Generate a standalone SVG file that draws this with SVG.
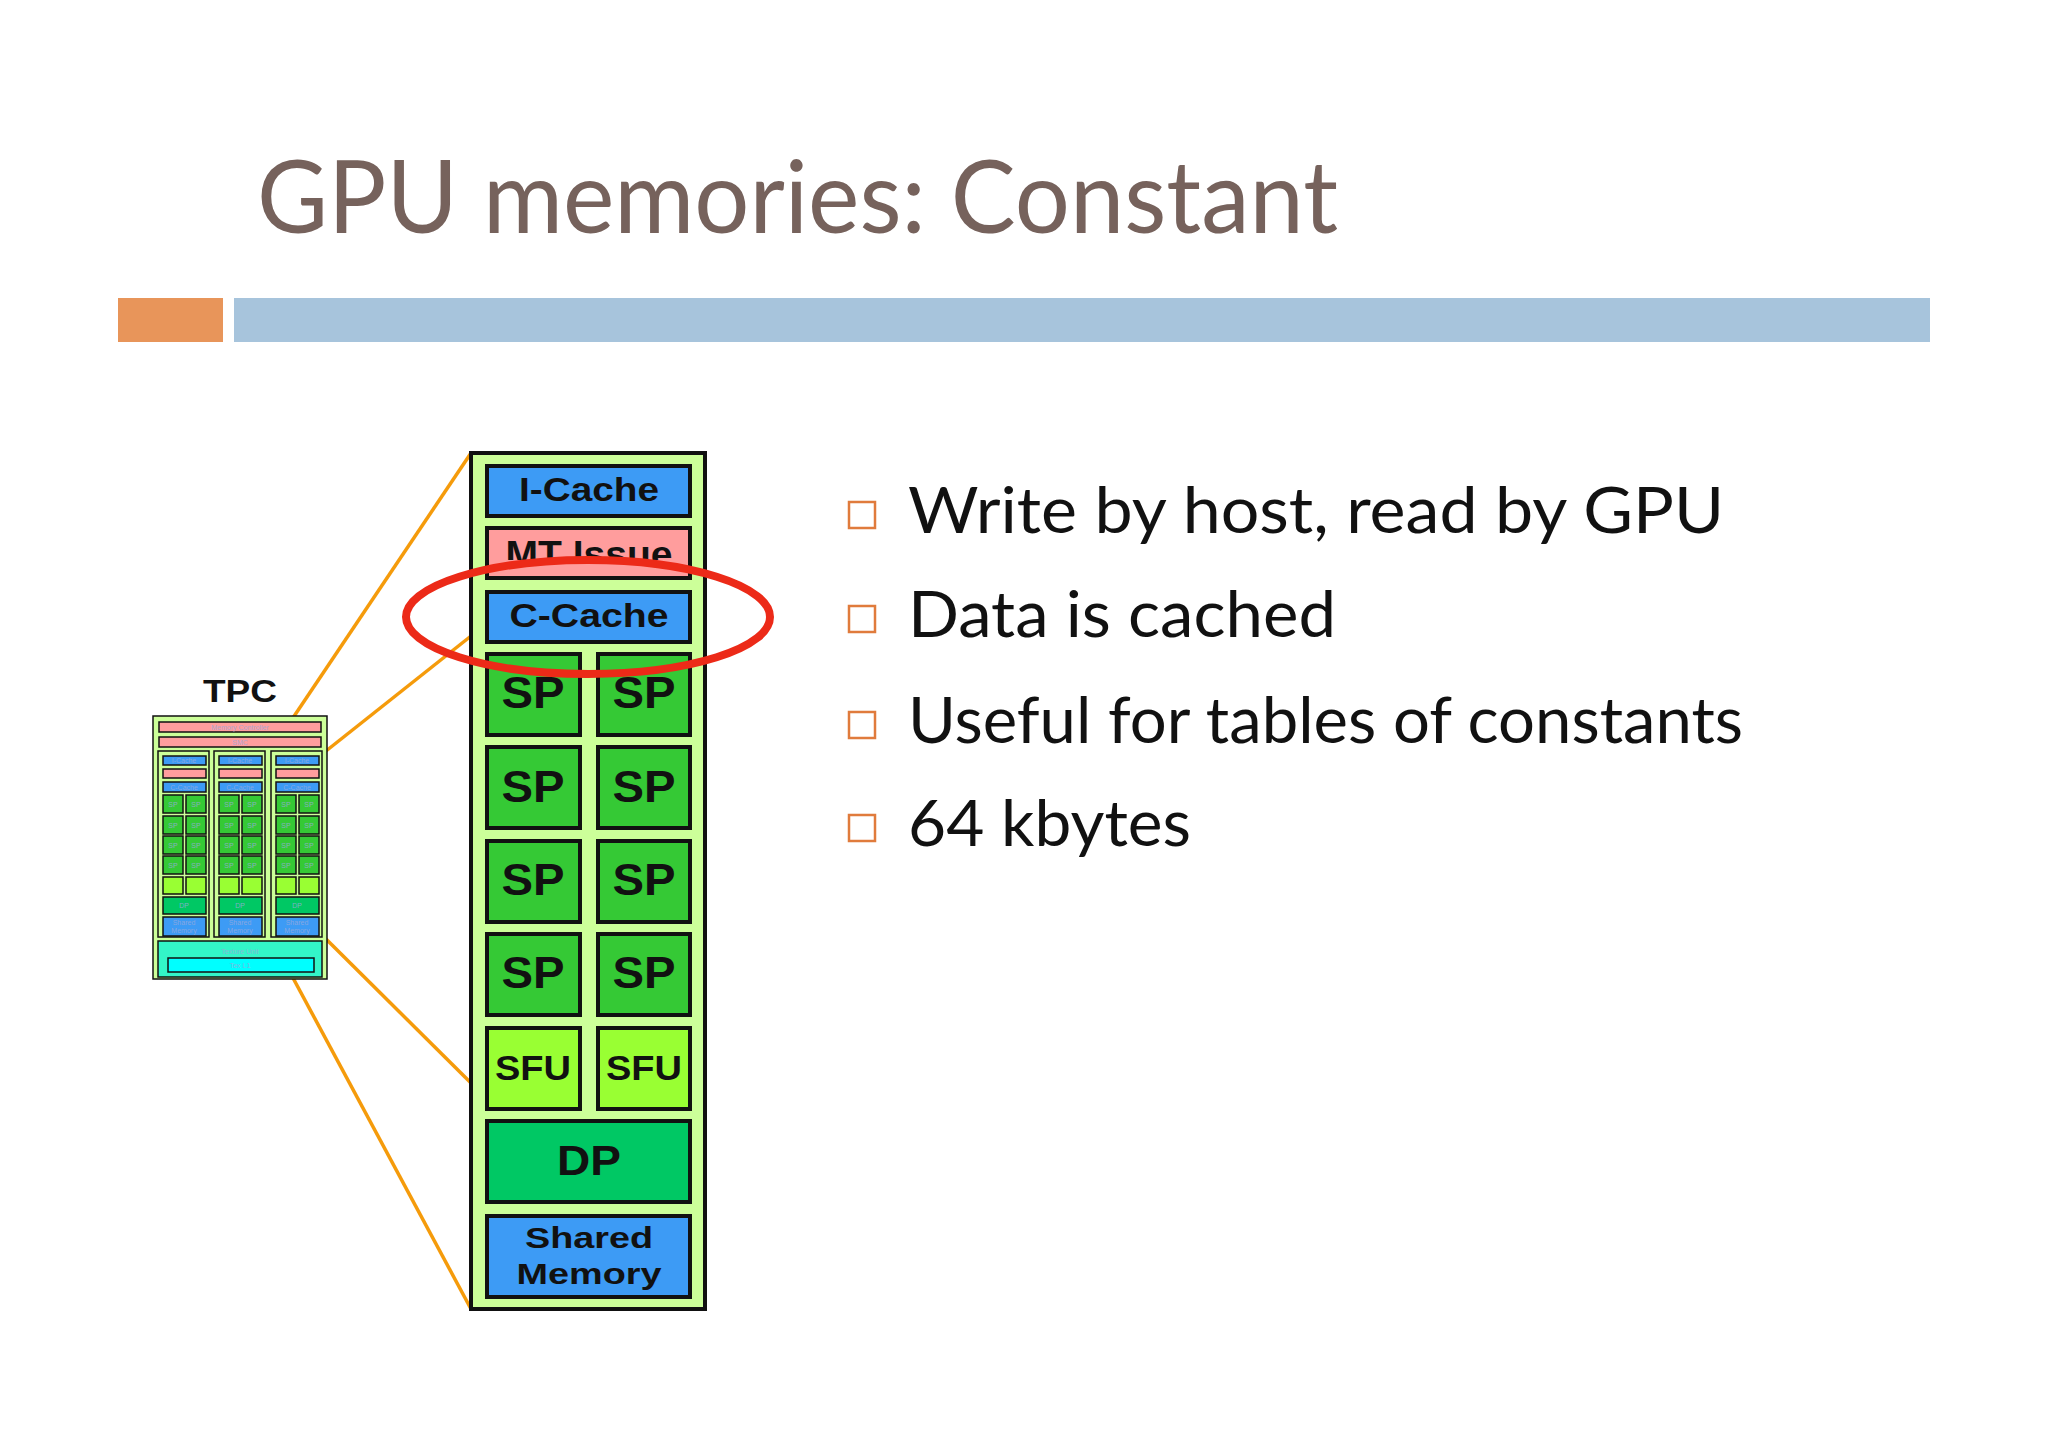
<svg xmlns="http://www.w3.org/2000/svg" xmlns:xlink="http://www.w3.org/1999/xlink" width="2048" height="1447" viewBox="0 0 2048 1447">
<style>
.bx{stroke:#111;stroke-width:4}
.sb{stroke:#111;stroke-width:1.5}
.blue{fill:#3d9bf5}.pink{fill:#ff9d9d}.green{fill:#35c935}.bg{fill:#ccff99}.sfu{fill:#99ff33}.dp{fill:#00c864}
.lbl{font-family:"Liberation Sans",Arial,sans-serif;font-weight:bold;fill:#111;text-anchor:middle}
.tiny{font-family:"Liberation Sans",Arial,sans-serif;font-size:7px;fill:#9ad;text-anchor:middle;opacity:0.8}
.bul{font-family:"Lato","Open Sans",sans-serif;font-size:64px;fill:#111}
.sq{fill:none;stroke:#e07b3c;stroke-width:2.5}
.ln{stroke:#f59b0b;stroke-width:3.5;fill:none}
</style>
<defs>
<clipPath id="mtclip"><rect x="480" y="520" width="220" height="40"/></clipPath>
<g id="col">
<rect x="0" y="0" width="51" height="186" class="bg sb"/>
<rect x="5" y="5" width="43" height="9" class="blue sb"/><text x="26" y="12" class="tiny">I-Cache</text>
<rect x="5" y="18" width="43" height="9" class="pink sb"/>
<rect x="5" y="31" width="43" height="10" class="blue sb"/><text x="26" y="39" class="tiny">C-Cache</text>
<rect x="5" y="44" width="20" height="18" class="green sb"/><rect x="28" y="44" width="20" height="18" class="green sb"/>
<rect x="5" y="65" width="20" height="18" class="green sb"/><rect x="28" y="65" width="20" height="18" class="green sb"/>
<rect x="5" y="85" width="20" height="18" class="green sb"/><rect x="28" y="85" width="20" height="18" class="green sb"/>
<rect x="5" y="105" width="20" height="18" class="green sb"/><rect x="28" y="105" width="20" height="18" class="green sb"/>
<text x="15" y="56" class="tiny">SP</text><text x="38" y="56" class="tiny">SP</text>
<text x="15" y="77" class="tiny">SP</text><text x="38" y="77" class="tiny">SP</text>
<text x="15" y="97" class="tiny">SP</text><text x="38" y="97" class="tiny">SP</text>
<text x="15" y="117" class="tiny">SP</text><text x="38" y="117" class="tiny">SP</text>
<rect x="5" y="126" width="20" height="17" class="sfu sb"/><rect x="28" y="126" width="20" height="17" class="sfu sb"/>
<rect x="5" y="146" width="43" height="17" class="dp sb"/><text x="26" y="157" class="tiny">DP</text>
<rect x="5" y="166" width="43" height="19" class="blue sb"/><text x="26" y="174" class="tiny" font-size="6">Shared</text><text x="26" y="182" class="tiny" font-size="6">Memory</text>
</g>
</defs>
<rect width="2048" height="1447" fill="#fff"/>
<text x="257" y="233" font-family="'Lato','Open Sans',sans-serif" font-size="100" fill="#76625c" textLength="1081" lengthAdjust="spacingAndGlyphs">GPU memories: Constant</text>
<rect x="118" y="298" width="105" height="44" fill="#e8955a"/>
<rect x="234" y="298" width="1696" height="44" fill="#a7c4dc"/>
<g id="connectors">
<line class="ln" x1="471" y1="453" x2="270" y2="752"/>
<line class="ln" x1="471" y1="636" x2="326" y2="751"/>
<line class="ln" x1="471" y1="1309" x2="271" y2="937"/>
<line class="ln" x1="471" y1="1083" x2="324" y2="937"/>
</g>
<g id="tpc">
<text x="240" y="702" class="lbl" font-size="32" textLength="74" lengthAdjust="spacingAndGlyphs">TPC</text>
<rect x="153" y="716" width="174" height="263" class="bg sb"/>
<rect x="159" y="722" width="162" height="10" class="pink sb"/><text x="240" y="730" class="tiny">Memory Controller</text>
<rect x="159" y="737" width="162" height="10" class="pink sb"/><text x="240" y="745" class="tiny">SMC</text>
<use xlink:href="#col" x="158" y="751"/>
<use xlink:href="#col" x="214" y="751"/>
<use xlink:href="#col" x="271" y="751"/>
<rect x="158" y="941" width="164" height="36" fill="#33f5c8" class="sb"/><text x="240" y="954" class="tiny">Texture Unit</text>
<rect x="168" y="958" width="146" height="14" fill="#00ffff" class="sb"/><text x="240" y="968" class="tiny">Tex L1</text>
</g>
<g id="sm">
<rect x="471" y="453" width="234" height="856" class="bg bx"/>
<rect x="487" y="466" width="203" height="50" class="blue bx"/><text x="589" y="501" class="lbl" font-size="34" textLength="140" lengthAdjust="spacingAndGlyphs">I-Cache</text>
<rect x="487" y="528" width="203" height="50" class="pink bx"/><text x="589" y="567" class="lbl" font-size="36" textLength="167" lengthAdjust="spacingAndGlyphs" clip-path="url(#mtclip)">MT Issue</text>
<rect x="487" y="592" width="203" height="50" class="blue bx"/><text x="589" y="627" class="lbl" font-size="34" textLength="159" lengthAdjust="spacingAndGlyphs">C-Cache</text>
<g class="lbl" font-size="45">
<rect x="487" y="654" width="93" height="81" class="green bx"/><rect x="598" y="654" width="92" height="81" class="green bx"/>
<text x="533" y="708" textLength="63" lengthAdjust="spacingAndGlyphs">SP</text><text x="644" y="708" textLength="63" lengthAdjust="spacingAndGlyphs">SP</text>
<rect x="487" y="747" width="93" height="81" class="green bx"/><rect x="598" y="747" width="92" height="81" class="green bx"/>
<text x="533" y="802" textLength="63" lengthAdjust="spacingAndGlyphs">SP</text><text x="644" y="802" textLength="63" lengthAdjust="spacingAndGlyphs">SP</text>
<rect x="487" y="841" width="93" height="81" class="green bx"/><rect x="598" y="841" width="92" height="81" class="green bx"/>
<text x="533" y="895" textLength="63" lengthAdjust="spacingAndGlyphs">SP</text><text x="644" y="895" textLength="63" lengthAdjust="spacingAndGlyphs">SP</text>
<rect x="487" y="934" width="93" height="81" class="green bx"/><rect x="598" y="934" width="92" height="81" class="green bx"/>
<text x="533" y="988" textLength="63" lengthAdjust="spacingAndGlyphs">SP</text><text x="644" y="988" textLength="63" lengthAdjust="spacingAndGlyphs">SP</text>
</g>
<rect x="487" y="1028" width="93" height="81" class="sfu bx"/><rect x="598" y="1028" width="92" height="81" class="sfu bx"/>
<text x="533" y="1080" class="lbl" font-size="35" textLength="76" lengthAdjust="spacingAndGlyphs">SFU</text><text x="644" y="1080" class="lbl" font-size="35" textLength="76" lengthAdjust="spacingAndGlyphs">SFU</text>
<rect x="487" y="1121" width="203" height="81" class="dp bx"/><text x="589" y="1175" class="lbl" font-size="42" textLength="64" lengthAdjust="spacingAndGlyphs">DP</text>
<rect x="487" y="1216" width="203" height="81" class="blue bx"/>
<text x="589" y="1248" class="lbl" font-size="30" textLength="128" lengthAdjust="spacingAndGlyphs">Shared</text><text x="589" y="1284" class="lbl" font-size="30" textLength="145" lengthAdjust="spacingAndGlyphs">Memory</text>
</g>
<ellipse id="highlight" cx="588" cy="617" rx="182" ry="57" fill="none" stroke="#ec2a18" stroke-width="8"/>
<g id="bullets">
<rect x="849" y="502" width="26" height="26" class="sq"/><text x="908" y="533" class="bul" textLength="816" lengthAdjust="spacingAndGlyphs">Write by host, read by GPU</text>
<rect x="849" y="606" width="26" height="26" class="sq"/><text x="908" y="637" class="bul" textLength="428" lengthAdjust="spacingAndGlyphs">Data is cached</text>
<rect x="849" y="712" width="26" height="26" class="sq"/><text x="908" y="743" class="bul" textLength="835" lengthAdjust="spacingAndGlyphs">Useful for tables of constants</text>
<rect x="849" y="815" width="26" height="26" class="sq"/><text x="908" y="846" class="bul" textLength="283" lengthAdjust="spacingAndGlyphs">64 kbytes</text>
</g>
</svg>
